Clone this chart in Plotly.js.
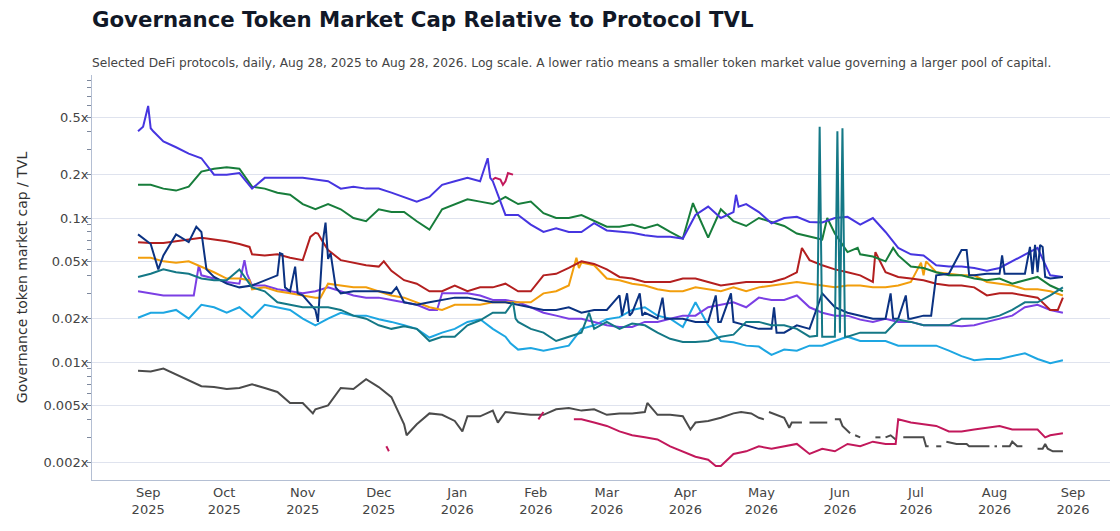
<!DOCTYPE html>
<html>
<head>
<meta charset="utf-8">
<script src="https://cdn.plot.ly/plotly-3.0.1.min.js"></script>
<style>html,body{margin:0;padding:0;background:#fff;}#chart{width:1120px;height:531px;}</style>
</head>
<body>
<div id="chart"></div>
<script>
// Day 0 = Aug 28, 2025; base grid every 5 days (day 0 .. day 365)
const START_DATE = Date.UTC(2025, 7, 28);
const GRID_STEP = 5;

const yTickVals = [0.002, 0.005, 0.01, 0.02, 0.05, 0.1, 0.2, 0.5];
const yTickText = ['0.002x', '0.005x', '0.01x', '0.02x', '0.05x', '0.1x', '0.2x', '0.5x'];

// ---- Series values (ratio of token market cap to TVL) ----
const indigoVals = [
  0.40, 0.42, 0.34, 0.31, 0.28, 0.26, 0.20, 0.20, 0.205, 0.16,
  0.19, 0.19, 0.19, 0.19, 0.185, 0.18, 0.16, 0.165, 0.16, 0.16,
  0.15, 0.14, 0.13, 0.14, 0.17, 0.18, 0.19, 0.18, 0.18, 0.105,
  0.105, 0.09, 0.08, 0.085, 0.08, 0.08, 0.092, 0.082, 0.08, 0.079,
  0.076, 0.074, 0.074, 0.072, 0.105, 0.12, 0.10, 0.11, 0.125, 0.11,
  0.092, 0.10, 0.102, 0.094, 0.093, 0.10, 0.102, 0.09, 0.10, 0.08,
  0.062, 0.056, 0.055, 0.047, 0.046, 0.046, 0.045, 0.043, 0.045, 0.05,
  0.056, 0.062, 0.04, 0.039
];
const indigoExtraDays = [2, 4, 6, 138, 139, 236, 237];
const indigoExtraVals = [0.43, 0.60, 0.40, 0.26, 0.19, 0.145, 0.12];

const greenVals = [
  0.17, 0.17, 0.16, 0.155, 0.165, 0.21, 0.22, 0.225, 0.22, 0.165,
  0.16, 0.15, 0.145, 0.125, 0.115, 0.125, 0.115, 0.10, 0.095, 0.115,
  0.11, 0.11, 0.095, 0.083, 0.115, 0.125, 0.135, 0.13, 0.125, 0.14,
  0.125, 0.13, 0.108, 0.10, 0.10, 0.105, 0.095, 0.087, 0.087, 0.09,
  0.085, 0.09, 0.08, 0.072, 0.115, 0.073, 0.115, 0.095, 0.088, 0.10,
  0.094, 0.088, 0.078, 0.074, 0.071, 0.078, 0.058, 0.056, 0.054, 0.05,
  0.055, 0.046, 0.045, 0.042, 0.04, 0.04, 0.038, 0.037, 0.038, 0.035,
  0.037, 0.039, 0.034, 0.031
];
const greenExtraDays = [219, 272, 284, 298];
const greenExtraVals = [0.127, 0.10, 0.062, 0.062];

const redVals = [
  0.068, 0.067, 0.067, 0.069, 0.071, 0.073, 0.071, 0.069, 0.066, 0.056,
  0.055, 0.056, 0.053, 0.051, 0.079, 0.06, 0.051, 0.049, 0.047, 0.046,
  0.043, 0.037, 0.035, 0.031, 0.031, 0.034, 0.031, 0.033, 0.033, 0.035,
  0.031, 0.031, 0.04, 0.041, 0.045, 0.05, 0.048, 0.044, 0.039, 0.038,
  0.036, 0.036, 0.036, 0.038, 0.038, 0.036, 0.034, 0.035, 0.036, 0.036,
  0.036, 0.038, 0.042, 0.051, 0.047, 0.044, 0.042, 0.04, 0.036, 0.042,
  0.039, 0.038, 0.037, 0.035, 0.034, 0.034, 0.033, 0.029, 0.03, 0.03,
  0.029, 0.028, 0.023, 0.028
];
const redExtraDays = [44, 68, 71, 73, 97, 262, 291, 363];
const redExtraVals = [0.063, 0.074, 0.078, 0.068, 0.05, 0.062, 0.058, 0.023];

const navyVals = [
  0.077, 0.066, 0.055, 0.077, 0.068, 0.08, 0.039, 0.035, 0.033, 0.034,
  0.037, 0.04, 0.031, 0.029, 0.023, 0.052, 0.03, 0.031, 0.031, 0.031,
  0.03, 0.026, 0.025, 0.026, 0.027, 0.028, 0.028, 0.027, 0.026, 0.026,
  0.025, 0.024, 0.023, 0.023, 0.024, 0.022, 0.023, 0.023, 0.029, 0.022,
  0.022, 0.02, 0.02, 0.02, 0.019, 0.019, 0.019, 0.019, 0.018, 0.017,
  0.017, 0.016, 0.018, 0.017, 0.03, 0.024, 0.022, 0.021, 0.02, 0.02,
  0.02, 0.02, 0.021, 0.04, 0.041, 0.06, 0.04, 0.041, 0.041, 0.041,
  0.041, 0.042, 0.038, 0.039
];
const navyExtraDays = [8, 23, 27, 56, 57, 58, 62, 63, 71, 73, 74, 76, 78, 102,
  191, 193, 194, 198, 199, 207, 208, 228, 229, 234, 251, 252, 297, 298, 303, 304,
  313, 327, 328, 341, 342, 352, 353, 354, 356, 357, 358];
const navyExtraVals = [0.044, 0.087, 0.044, 0.057, 0.056, 0.033, 0.046, 0.03, 0.019, 0.07, 0.093, 0.057, 0.033, 0.033,
  0.021, 0.03, 0.021, 0.03, 0.021, 0.028, 0.02, 0.029, 0.019, 0.03, 0.024, 0.016, 0.03, 0.02, 0.029, 0.02,
  0.021, 0.06, 0.04, 0.055, 0.041, 0.063, 0.041, 0.065, 0.065, 0.063, 0.039];

const orangeVals = [
  0.053, 0.053, 0.05, 0.049, 0.05, 0.046, 0.042, 0.038, 0.038, 0.032,
  0.033, 0.031, 0.03, 0.029, 0.028, 0.035, 0.034, 0.033, 0.033, 0.031,
  0.029, 0.028, 0.026, 0.024, 0.023, 0.025, 0.025, 0.025, 0.026, 0.026,
  0.026, 0.026, 0.03, 0.031, 0.034, 0.049, 0.047, 0.038, 0.037, 0.035,
  0.034, 0.032, 0.031, 0.031, 0.033, 0.032, 0.031, 0.033, 0.031, 0.033,
  0.034, 0.035, 0.036, 0.035, 0.034, 0.033, 0.034, 0.034, 0.033, 0.033,
  0.034, 0.036, 0.04, 0.042, 0.041, 0.04, 0.04, 0.036, 0.035, 0.034,
  0.032, 0.032, 0.031, 0.029
];
const orangeExtraDays = [44, 72, 173, 174, 309, 311];
const orangeExtraVals = [0.037, 0.028, 0.053, 0.045, 0.049, 0.05];

const purpleVals = [
  0.031, 0.03, 0.029, 0.029, 0.029, 0.04, 0.038, 0.036, 0.035, 0.034,
  0.034, 0.032, 0.031, 0.03, 0.031, 0.033, 0.031, 0.029, 0.028, 0.028,
  0.027, 0.026, 0.025, 0.023, 0.03, 0.03, 0.03, 0.029, 0.027, 0.027,
  0.026, 0.024, 0.022, 0.021, 0.02, 0.02, 0.019, 0.018, 0.0175, 0.0175,
  0.019, 0.019, 0.02, 0.021, 0.021, 0.024, 0.025, 0.026, 0.024, 0.028,
  0.027, 0.027, 0.029, 0.024, 0.022, 0.021, 0.021, 0.0197, 0.019, 0.02,
  0.019, 0.019, 0.018, 0.018, 0.018, 0.0177, 0.018, 0.019, 0.02, 0.021,
  0.024, 0.025, 0.023, 0.022
];
const purpleExtraDays = [22, 24, 42, 43, 118];
const purpleExtraVals = [0.029, 0.047, 0.051, 0.041, 0.023];

const tealVals = [
  0.039, 0.041, 0.044, 0.042, 0.041, 0.038, 0.037, 0.037, 0.044, 0.033,
  0.031, 0.026, 0.025, 0.024, 0.024, 0.024, 0.023, 0.021, 0.02, 0.018,
  0.017, 0.0177, 0.017, 0.014, 0.015, 0.015, 0.018, 0.0195, 0.022, 0.022,
  0.019, 0.017, 0.016, 0.014, 0.015, 0.016, 0.017, 0.019, 0.017, 0.0185,
  0.018, 0.016, 0.0145, 0.0138, 0.0138, 0.014, 0.015, 0.0155, 0.019, 0.019,
  0.018, 0.018, 0.017, 0.015, 0.015, 0.015, 0.015, 0.016, 0.016, 0.016,
  0.0197, 0.019, 0.018, 0.018, 0.018, 0.02, 0.02, 0.02, 0.021, 0.023,
  0.026, 0.026, 0.029, 0.033
];
const tealExtraDays = [148, 149, 178, 268, 269, 276, 277, 278, 279];
const tealExtraVals = [0.026, 0.02, 0.022, 0.0152, 0.43, 0.40, 0.016, 0.42, 0.015];

const skyVals = [
  0.0203, 0.022, 0.022, 0.023, 0.02, 0.025, 0.024, 0.022, 0.024, 0.0203,
  0.025, 0.024, 0.023, 0.02, 0.018, 0.02, 0.022, 0.021, 0.021, 0.0198,
  0.019, 0.018, 0.017, 0.0148, 0.016, 0.017, 0.019, 0.0198, 0.017, 0.015,
  0.0122, 0.0125, 0.012, 0.0125, 0.013, 0.017, 0.018, 0.0198, 0.0205, 0.023,
  0.024, 0.021, 0.02, 0.0175, 0.026, 0.018, 0.014, 0.0137, 0.013, 0.0128,
  0.0112, 0.0122, 0.012, 0.013, 0.013, 0.014, 0.015, 0.014, 0.014, 0.014,
  0.013, 0.013, 0.013, 0.013, 0.012, 0.011, 0.0103, 0.0105, 0.0105, 0.011,
  0.0115, 0.0105, 0.0098, 0.0103
];
const skyExtraDays = [147];
const skyExtraVals = [0.0135];

const grayVals = [
  0.0087, 0.0086, 0.009, 0.0082, 0.0074, 0.0068, 0.0067, 0.0065, 0.0066, 0.007,
  0.0066, 0.0062, 0.0052, 0.0052, 0.0047, 0.005, 0.0066, 0.0065, 0.0076, 0.0067,
  0.0057, 0.0037, 0.0037, 0.0044, 0.0043, 0.0039, 0.0042, 0.0042, 0.0046, 0.0045,
  0.0044, 0.0043, 0.0043, 0.0047, 0.0048, 0.0046, 0.0047, 0.0043, 0.0044, 0.0044,
  0.0045, 0.0043, 0.0043, 0.0042, 0.0038, 0.0039, 0.0041, 0.0044
];
const grayExtraDays = [69, 106, 128, 142, 201, 218,
  238, 242, 245, 247, 248, 249, 252, 255, 257, 258, 262, 263, 265, 268, 272, 273,
  275, 277, 278, 280, 281, 282, 283, 285, 286, 291, 293, 294, 295, 297, 299, 300,
  302, 306, 310, 311, 312, 313, 315, 317, 318, 319, 323, 327, 328, 332, 336, 337,
  338, 339, 340, 341, 344, 345, 347, 349, 350, 355, 357, 358, 359, 361, 365];
const grayExtraVals = [0.0044, 0.0031, 0.0033, 0.0038, 0.0052, 0.0034,
  0.0045, 0.0044, 0.0041, 0.004, null, 0.0045, 0.0043, 0.0041, 0.0035, 0.0038, 0.0038, null, 0.0038, 0.0038, 0.0038, null,
  0.004, 0.004, 0.0036, 0.0033, 0.0032, null, 0.0031, 0.003, null, 0.003, 0.003, null, 0.003, 0.0031, 0.0029, null,
  0.003, 0.003, 0.003, 0.0026, 0.0026, null, 0.0026, 0.0026, null, 0.0028, 0.0027, 0.0027, 0.0026, 0.0026, 0.0026, null,
  0.0026, 0.0026, null, 0.0026, 0.0026, 0.0028, 0.0026, 0.0026, null, 0.0025, 0.0025, 0.0027, 0.0025, 0.0024, 0.0024];

const magentaVals = [
  null, null, null, null, null, null, null, null, null, null,
  null, null, null, null, null, null, null, null, null, null,
  null, null, null, null, null, null, null, null, 0.185, 0.18,
  null, null, 0.0045, null, null, 0.004, 0.0038, 0.0036, 0.0033, 0.0031,
  0.003, 0.0029, 0.0026, 0.0024, 0.0022, 0.0021, 0.0019, 0.0023, 0.0024, 0.0026,
  0.0025, 0.0026, 0.0027, 0.0023, 0.0025, 0.0024, 0.0027, 0.0026, 0.0028, 0.0027,
  0.004, 0.0038, 0.0037, 0.0036, 0.0033, 0.0033, 0.0034, 0.0035, 0.0036, 0.0034,
  0.0034, 0.0034, 0.0031, 0.0032
];
const magentaExtraDays = [98, 99, 141, 143, 144, 146, 148, 158, 172, 228, 299, 358];
const magentaExtraVals = [0.0026, 0.0024, 0.19, 0.185, 0.17, 0.205, 0.2, 0.004, 0.004, 0.0019, 0.0027, 0.003];

// ---- helpers ----
function dayToDate(d) {
  return new Date(START_DATE + d * 86400000).toISOString().slice(0, 10);
}
function buildSeries(grid, exDays, exVals) {
  const m = new Map();
  grid.forEach((v, i) => m.set(i * GRID_STEP, v));
  exDays.forEach((d, i) => m.set(d, exVals[i]));
  const days = Array.from(m.keys()).sort((a, b) => a - b);
  return { x: days.map(dayToDate), y: days.map(d => m.get(d)) };
}

const seriesDefs = [
  { name: 'Gray', vals: grayVals, ed: grayExtraDays, ev: grayExtraVals, color: '#4b4b4b' },
  { name: 'Magenta', vals: magentaVals, ed: magentaExtraDays, ev: magentaExtraVals, color: '#c2185b' },
  { name: 'Sky', vals: skyVals, ed: skyExtraDays, ev: skyExtraVals, color: '#1da6e2' },
  { name: 'Purple', vals: purpleVals, ed: purpleExtraDays, ev: purpleExtraVals, color: '#7b3fe4' },
  { name: 'Orange', vals: orangeVals, ed: orangeExtraDays, ev: orangeExtraVals, color: '#f29e0c' },
  { name: 'Red', vals: redVals, ed: redExtraDays, ev: redExtraVals, color: '#b31f1f' },
  { name: 'Green', vals: greenVals, ed: greenExtraDays, ev: greenExtraVals, color: '#177d3b' },
  { name: 'Indigo', vals: indigoVals, ed: indigoExtraDays, ev: indigoExtraVals, color: '#4635e0' },
  { name: 'Navy', vals: navyVals, ed: navyExtraDays, ev: navyExtraVals, color: '#0b3282' },
  { name: 'Teal', vals: tealVals, ed: tealExtraDays, ev: tealExtraVals, color: '#147886' }
];

const traces = seriesDefs.map(s => {
  const p = buildSeries(s.vals, s.ed, s.ev);
  return {
    type: 'scatter', mode: 'lines', name: s.name,
    x: p.x, y: p.y, connectgaps: false,
    line: { color: s.color, width: 2 },
    hoverinfo: 'skip'
  };
});

const minorVals = [];
[-3, -2, -1, 0].forEach(e => { for (let k = 1; k <= 9; k++) minorVals.push(k * Math.pow(10, e)); });

const layout = {
  width: 1120, height: 531,
  margin: { l: 92, r: 10, t: 75, b: 51 },
  paper_bgcolor: '#ffffff', plot_bgcolor: '#ffffff',
  showlegend: false,
  font: { family: 'DejaVu Sans, sans-serif', color: '#444' },
  title: {
    text: 'Governance Token Market Cap Relative to Protocol TVL',
    font: { family: 'DejaVu Sans, sans-serif', size: 21.3, color: '#111827', weight: 'bold' },
    xref: 'paper', x: 0, xanchor: 'left',
    yref: 'container', y: 1 - 20 / 531, yanchor: 'middle'
  },
  annotations: [{
    text: 'Selected DeFi protocols, daily, Aug 28, 2025 to Aug 28, 2026. Log scale. A lower ratio means a smaller token market value governing a larger pool of capital.',
    xref: 'paper', yref: 'paper', x: 0, y: 1 + 12 / 405, xshift: -1,
    xanchor: 'left', yanchor: 'middle', showarrow: false, borderpad: 0,
    font: { family: 'DejaVu Sans, sans-serif', size: 12.2, color: '#444' }
  }],
  xaxis: {
    type: 'date',
    range: ['2025-08-09 20:00', '2026-09-15 14:00'],
    tick0: '2025-09-01', dtick: 'M1',
    tickformat: '%b<br>%Y',
    showgrid: false, zeroline: false,
    showline: true, linecolor: '#b4bfd3', linewidth: 1,
    ticks: '', tickfont: { size: 13, color: '#444' }
  },
  yaxis: {
    type: 'log',
    range: [-2.819, -0.007],
    tickmode: 'array', tickvals: yTickVals, ticktext: yTickText,
    showgrid: true, gridcolor: '#dfe3ee', gridwidth: 1,
    zeroline: false, showline: true, linecolor: '#b4bfd3', linewidth: 1,
    ticks: '', tickfont: { size: 13, color: '#444' },
    minor: { tickmode: 'array', tickvals: minorVals, ticks: 'outside', ticklen: 4, tickcolor: '#7d889c', tickwidth: 1, showgrid: false },
    title: { text: 'Governance token market cap / TVL', font: { size: 14, color: '#333' }, standoff: 12 }
  }
};

Plotly.newPlot('chart', traces, layout, { displayModeBar: false, staticPlot: true });
</script>
</body>
</html>
